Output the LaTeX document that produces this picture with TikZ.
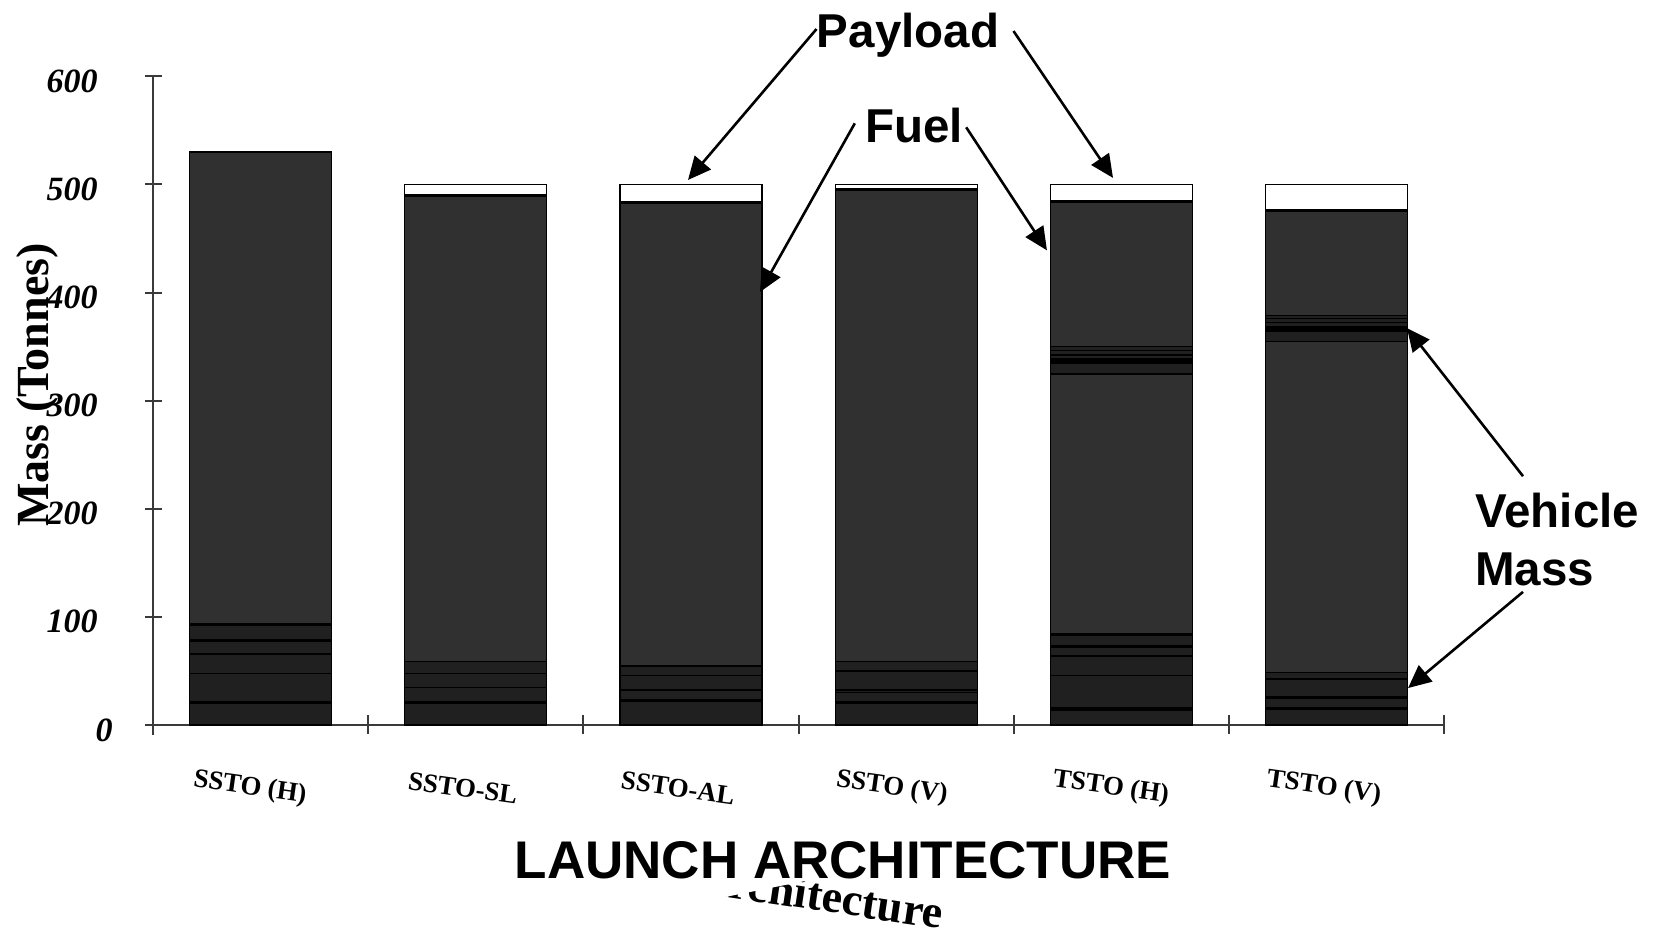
\documentclass[tikz,border=0pt]{standalone}
\usepackage{fontspec}
\setmainfont{Liberation Serif}
\setsansfont{Liberation Sans}
\usetikzlibrary{arrows.meta}

\definecolor{segdark}{HTML}{202020}
\definecolor{segfuel}{HTML}{303030}
\definecolor{axisgray}{HTML}{3A3A3A}

% one stacked bar: #1 category, #2 lo/hi/colour segments, #3 heavy separators
\newcommand\barstack[3]{%
  \foreach \lo/\hi/\c in {#2}
    \draw[seg, fill=\c] (#1-\bw,\lo) rectangle (#1+\bw,\hi);
  \foreach \s in {#3}
    \draw[sep] (#1-\bw,\s) -- (#1+\bw,\s);
}
\def\bw{0.33}

\begin{document}
\begin{tikzpicture}[x=0.5pt,y=-0.5pt,
  callout/.style={font=\sffamily\bfseries\fontsize{23.75}{29}\selectfont, inner sep=0pt},
  ticklab/.style={font=\bfseries\itshape\fontsize{17}{20}\selectfont, inner sep=0pt, anchor=east},
  catlab/.style={font=\bfseries\fontsize{13.4}{16}\selectfont, inner sep=0pt, rotate=-8},
  arr/.style={-{Triangle[length=11.5pt,width=10.5pt]}, line width=1.3pt, black},
  seg/.style={draw=black, line width=0.6pt},
  sep/.style={line width=1.6pt, black},
  axisline/.style={line width=1pt, draw=axisgray}
]
\useasboundingbox (0,0) rectangle (1659,934);

% axes and ticks
\draw[axisline] (153,76) -- (153,735);
\draw[axisline] (153,724.9) -- (1444,724.9);
\foreach \v in {0,100,...,600}
  \draw[axisline] (145,{724.9-1.081*\v}) -- (162,{724.9-1.081*\v});
\foreach \i in {0,...,6}
  \draw[axisline] ({153+215.2*\i},715) -- ({153+215.2*\i},734);

% value labels
\foreach \v in {100,200,...,600}
  \node[ticklab] (t\v) at (98,{724.9-1.081*\v+5}) {\v};
\node[ticklab] (t0) at (113,730) {0};

% stacked bars, drawn in data units
\begin{scope}[shift={(45.4,724.9)}, xscale=215.2, yscale=-1.081]
  \barstack{1}{0/20.5/segdark, 20.5/47.7/segdark, 47.7/65.6/segdark, 65.6/77.9/segdark,
    77.9/93/segdark, 93/530/segfuel}{20.5,77.9,93}
  \barstack{2}{0/20.5/segdark, 20.5/34.8/segdark, 34.8/47.7/segdark, 47.7/58.5/segdark,
    58.5/490/segfuel, 490/500/white}{20.5,490}
  \barstack{3}{0/22.4/segdark, 22.4/32.3/segdark, 32.3/45.5/segdark, 45.5/54.5/segdark,
    54.5/483/segfuel, 483/500/white}{22.4,483}
  \barstack{4}{0/20.5/segdark, 20.5/29.8/segdark, 29.8/32.3/segdark, 32.3/49.9/segdark,
    49.9/58.5/segdark, 58.5/495.5/segfuel, 495.5/500/white}{20.5,495.5}
  \barstack{5}{0/14.7/segdark, 14.7/45.5/segdark, 45.5/63.7/segdark, 63.7/72.3/segdark,
    72.3/83.8/segdark, 83.8/324.6/segfuel, 324.6/334.5/segdark, 334.5/339.1/black,
    339.1/342.2/segdark, 342.2/346.6/segdark, 346.6/350.3/segdark, 350.3/484/segfuel,
    484/500/white}{14.7,72.3,83.8,484}
  \barstack{6}{0/15.3/segdark, 15.3/25.5/segdark, 25.5/42.5/segdark, 42.5/48.3/segdark,
    48.3/354.5/segfuel, 354.5/364.4/segdark, 364.4/368.4/segdark, 368.4/372.4/segdark,
    372.4/376/segdark, 376/378.5/segdark, 378.5/476/segfuel, 476/500/white}{15.3,25.5,366.4,476}

  % arrow targets on the bars
  \coordinate (ptop3) at (2.986,504.1);
  \coordinate (ptop5) at (4.961,506);
  \coordinate (fuel3) at (3.3205,400.5);
  \coordinate (fuel5) at (4.654,439);
  \coordinate (veh6a) at (6.327,367.1);
  \coordinate (veh6b) at (6.332,34.1);
\end{scope}

% category labels
\node[catlab] (c1) at (250,788) {SSTO (H)};
\node[catlab] (c2) at (463,788) {SSTO-SL};
\node[catlab] (c3) at (678,788) {SSTO-AL};
\node[catlab] (c4) at (892,788) {SSTO (V)};
\node[catlab] (c5) at (1111,788) {TSTO (H)};
\node[catlab] (c6) at (1324,788) {TSTO (V)};

% vertical axis title
\node[font=\bfseries\fontsize{23}{27}\selectfont, rotate=90, inner sep=0pt] (ylab) at (37,385) {Mass (Tonnes)};

% older horizontal title, mostly hidden under the new one
\node[font=\bfseries\fontsize{23}{27}\selectfont, rotate=-8.5, anchor=base east, inner sep=0pt]
  (oldlab) at (941,929) {Launch Architecture};
\fill[white] (470,815) -- (1100,815) -- (1100,822) -- (470,948) -- cycle;
\node[font=\sffamily\bfseries\fontsize{26.5}{30}\selectfont, anchor=base, inner sep=0pt]
  (xlab) at (843,878) {LAUNCH ARCHITECTURE};

% callouts
\node[callout, anchor=base] (payload) at (908,47) {Payload};
\node[callout, anchor=base] (fuel) at (914,142) {Fuel};
\node[callout, anchor=base west] (vehicle) at (1475,527) {Vehicle};
\node[callout, anchor=base west] (mass) at (1475,585) {Mass};

\draw[arr] ([yshift=2.85pt]payload.west) -- (ptop3);
\draw[arr] ([xshift=7pt,yshift=1.85pt]payload.east) -- (ptop5);
\draw[arr] ([xshift=-5pt,yshift=0.85pt]fuel.west) -- (fuel3);
\draw[arr] ([xshift=1.5pt,yshift=-1.15pt]fuel.east) -- (fuel5);
\draw[arr] ([xshift=24pt,yshift=8pt]vehicle.north west) -- (veh6a);
\draw[arr] ([xshift=24pt,yshift=-3pt]mass.south west) -- (veh6b);
\end{tikzpicture}
\end{document}
